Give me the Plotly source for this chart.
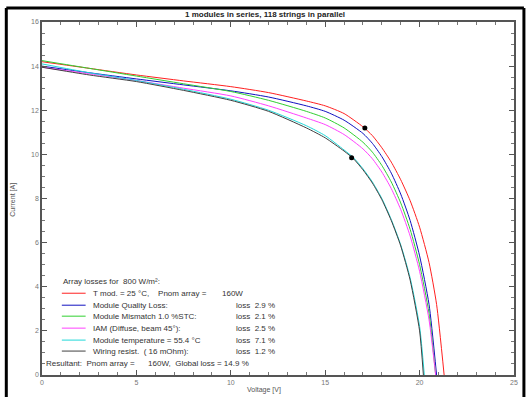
import plotly.graph_objects as go

# ---------------- data ----------------
title = "1 modules in series, 118 strings in parallel"

v_red = [0, 2.5, 5, 7.5, 10, 12, 14, 15, 16, 17, 17.5, 18, 18.5, 19, 19.5, 20, 20.5, 20.9, 21.3]
i_red = [14.2, 13.9, 13.6, 13.33, 13.07, 12.8, 12.42, 12.2, 11.85, 11.25, 10.85, 10.3, 9.65, 8.85, 7.9, 6.7, 5.1, 3.2, 0]

v_blue = [0, 2.5, 5, 7.5, 10, 12, 14, 15, 16, 17, 17.5, 18, 18.5, 19, 19.5, 20, 20.5, 20.9]
i_blue = [14.0, 13.7, 13.42, 13.15, 12.88, 12.6, 12.2, 11.95, 11.55, 10.95, 10.5, 9.9, 9.15, 8.2, 7.0, 5.4, 3.2, 0]

v_green = [0, 2.5, 5, 7.5, 10, 12, 14, 15, 16, 17, 17.5, 18, 18.5, 19, 19.5, 20, 20.5, 20.85]
i_green = [14.25, 13.9, 13.55, 13.2, 12.85, 12.45, 11.95, 11.65, 11.2, 10.55, 10.1, 9.5, 8.75, 7.8, 6.6, 5.0, 2.8, 0]

v_mag = [0, 2.5, 5, 7.5, 10, 12, 14, 15, 16, 17, 17.5, 18, 18.5, 19, 19.5, 20, 20.5, 20.85]
i_mag = [13.95, 13.65, 13.35, 13.0, 12.65, 12.2, 11.65, 11.35, 10.9, 10.25, 9.8, 9.2, 8.45, 7.5, 6.3, 4.7, 2.5, 0]

v_cyan = [0, 2.5, 5, 7.5, 10, 12, 14, 15, 16, 16.5, 17, 17.5, 18, 18.5, 19, 19.5, 20, 20.25]
i_cyan = [14.1, 13.7, 13.35, 12.95, 12.5, 12.0, 11.3, 10.85, 10.2, 9.85, 9.35, 8.75, 8.0, 7.05, 5.9, 4.4, 2.2, 0]

v_dark = [0, 2.5, 5, 7.5, 10, 12, 14, 15, 16, 16.5, 17, 17.5, 18, 18.5, 19, 19.5, 20, 20.2]
i_dark = [13.95, 13.6, 13.3, 12.9, 12.45, 11.95, 11.2, 10.75, 10.15, 9.8, 9.3, 8.7, 7.95, 7.0, 5.85, 4.3, 2.0, 0]

mpp_v = [17.1, 16.4]
mpp_i = [11.2, 9.85]

x_ticks = [0, 5, 10, 15, 20, 25]
y_ticks = [0, 2, 4, 6, 8, 10, 12, 14, 16]

legend_header = "Array losses for  800 W/m²:"
legend_labels = ["T mod. = 25 °C,    Pnom array =", "Module Quality Loss:", "Module Mismatch 1.0 %STC:",
                 "IAM (Diffuse, beam 45°):", "Module temperature = 55.4 °C", "Wiring resist.  ( 16 mOhm):"]
legend_right = ["160W", "loss  2.9 %", "loss  2.1 %", "loss  2.5 %", "loss  7.1 %", "loss  1.2 %"]
legend_footer = "Resultant:  Pnom array =      160W,  Global loss = 14.9 %"

colors = ["#ff2020", "#1010c0", "#30d030", "#ff40ff", "#20d8d8", "#404040"]
series = [(v_red, i_red), (v_blue, i_blue), (v_green, i_green), (v_mag, i_mag), (v_cyan, i_cyan), (v_dark, i_dark)]

# ---------------- layout geometry ----------------
W, H = 530, 398
L, R, T, B = 42, 12, 22, 22
PW, PH = W - L - R, H - T - B


def px(x):
    return (x - L) / PW


def py(y):
    return (H - B - y) / PH


FONT = "Liberation Sans, Arial, sans-serif"

fig = go.Figure()
for (vv, ii), c in zip(series, colors):
    fig.add_trace(go.Scatter(x=vv, y=ii, mode="lines", line=dict(color=c, width=1, shape="spline", smoothing=0.6),
                             showlegend=False, hoverinfo="skip"))
fig.add_trace(go.Scatter(x=mpp_v, y=mpp_i, mode="markers", marker=dict(color="black", size=5),
                         showlegend=False, hoverinfo="skip"))

axis_common = dict(showgrid=False, zeroline=False, showline=True, linecolor="#555555", linewidth=1.5,
                   mirror="ticks", ticks="inside", ticklen=5, tickcolor="#555555",
                   tickfont=dict(family=FONT, size=7, color="#777777"))
fig.update_xaxes(range=[0, 25], tickvals=x_ticks, ticktext=[str(t) for t in x_ticks],
                 minor=dict(dtick=1, ticks="inside", ticklen=3, tickcolor="#777777"), **axis_common)
fig.update_yaxes(range=[0, 16], tickvals=y_ticks, ticktext=[str(t) for t in y_ticks],
                 minor=dict(dtick=0.5, ticks="inside", ticklen=3, tickcolor="#777777"), **axis_common)

shapes = []
ann = []
# outer black frame
for x0, y0, x1, y1 in [(6, 398, 6, 8), (6, 8, 528, 8), (528, 8, 528, 398)]:
    shapes.append(dict(type="line", xref="paper", yref="paper", x0=px(x0), y0=py(y0), x1=px(x1), y1=py(y1),
                       line=dict(color="black", width=3)))

rows = [282, 294, 306, 317, 329, 341, 352, 364]
ann.append(dict(x=px(61), y=py(rows[0]), text=legend_header))
for k in range(6):
    yy = rows[k + 1]
    shapes.append(dict(type="line", xref="paper", yref="paper", x0=px(62), x1=px(86), y0=py(yy), y1=py(yy),
                       line=dict(color=colors[k], width=1)))
    ann.append(dict(x=px(91), y=py(yy), text=legend_labels[k]))
    ann.append(dict(x=px(222 if k == 0 else 236), y=py(yy), text=legend_right[k]))
ann.append(dict(x=px(44), y=py(rows[7]), text=legend_footer))
for a in ann:
    a.update(xref="paper", yref="paper", xanchor="left", yanchor="middle", showarrow=False,
             font=dict(family=FONT, size=8, color="#333333"))

ann.append(dict(xref="paper", yref="paper", x=px(267), y=py(14), text="<b>" + title + "</b>", showarrow=False,
                xanchor="center", yanchor="middle", font=dict(family=FONT, size=8, color="#222222")))
ann.append(dict(xref="paper", yref="paper", x=px(266), y=py(391), text="Voltage [V]", showarrow=False,
                xanchor="center", yanchor="middle", font=dict(family=FONT, size=7, color="#555555")))
ann.append(dict(xref="paper", yref="paper", x=px(13), y=py(200), text="Current [A]", showarrow=False,
                textangle=-90, xanchor="center", yanchor="middle", font=dict(family=FONT, size=7, color="#555555")))

fig.update_layout(width=W, height=H, margin=dict(l=L, r=R, t=T, b=B), paper_bgcolor="white",
                  plot_bgcolor="white", shapes=shapes, annotations=ann, showlegend=False)

fig.write_html("out.html", config={"displayModeBar": False},
               post_script="document.body.style.margin='0';document.body.style.overflow='hidden';")
